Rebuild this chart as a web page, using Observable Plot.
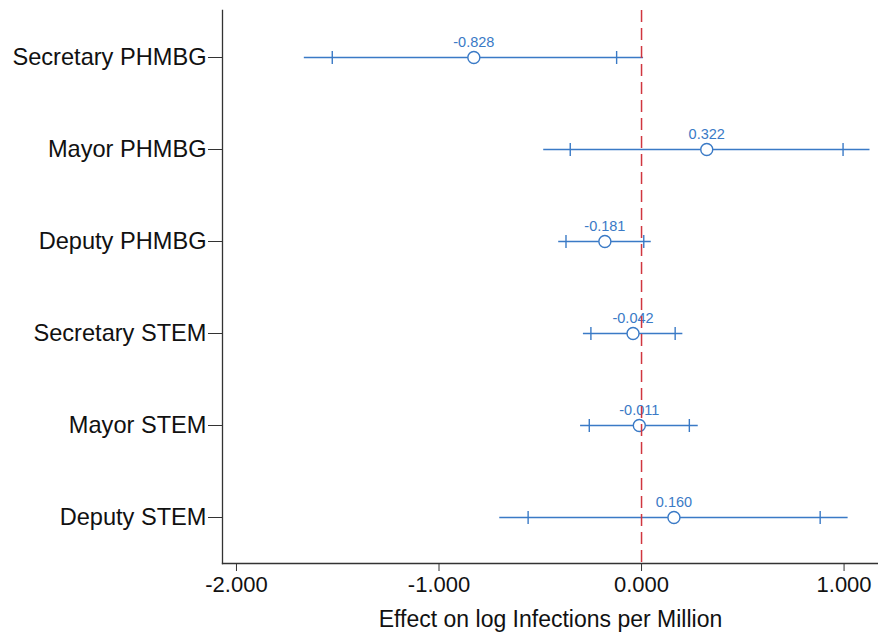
<!DOCTYPE html>
<html><head><meta charset="utf-8">
<script src="https://cdn.jsdelivr.net/npm/d3@7"></script>
<script src="https://cdn.jsdelivr.net/npm/@observablehq/plot@0.6"></script>
<style>body{margin:0;background:#fff} svg{display:block}</style>
</head><body><div id="chart"></div>
<script>
const categories = ["Secretary PHMBG","Mayor PHMBG","Deputy PHMBG","Secretary STEM","Mayor STEM","Deputy STEM"];
const estimates = [-0.828, 0.322, -0.181, -0.042, -0.011, 0.160];
const lo95 = [-1.665, -0.483, -0.409, -0.287, -0.301, -0.700];
const hi95 = [0.010, 1.128, 0.048, 0.204, 0.280, 1.020];
const lo90 = [-1.527, -0.352, -0.373, -0.250, -0.258, -0.560];
const hi90 = [-0.123, 0.995, 0.011, 0.166, 0.236, 0.882];
const xTicks = [-2, -1, 0, 1];
const xLabel = "Effect on log Infections per Million";

const data = categories.map((c, i) => ({cat: c, est: estimates[i], lo95: lo95[i], hi95: hi95[i], lo90: lo90[i], hi90: hi90[i]}));
const caps = data.flatMap(d => [{cat: d.cat, x: d.lo90}, {cat: d.cat, x: d.hi90}]);

const blue = "#3a7ac6";
const red = "#d0363f";
const vbar = {draw(ctx, size) { const r = Math.sqrt(size / Math.PI); ctx.moveTo(0, -r); ctx.lineTo(0, r); }};

const chart = Plot.plot({
  width: 878,
  height: 637,
  marginLeft: 222,
  marginRight: 0,
  marginTop: 10,
  marginBottom: 74,
  style: {fontFamily: "'Liberation Sans', Arial, sans-serif", background: "#fff", color: "#111"},
  x: {domain: [-2.069, 1.170]},
  y: {type: "point", domain: categories, padding: 0.5},
  marks: [
    Plot.frame({anchor: "left", stroke: "#333", strokeWidth: 1.3}),
    Plot.frame({anchor: "bottom", stroke: "#333", strokeWidth: 1.3}),
    Plot.axisY({tickSize: 14, tickPadding: 2, fontSize: 23.6, label: null, stroke: "#333", fill: "#111"}),
    Plot.axisX({ticks: xTicks, tickSize: 8, tickPadding: 5, fontSize: 22, tickFormat: d => d.toFixed(3),
      label: null, stroke: "#333", fill: "#111"}),
    Plot.text([xLabel], {frameAnchor: "bottom", dy: 63, fontSize: 23, fill: "#111"}),
    Plot.ruleY(data, {y: "cat", x1: "lo95", x2: "hi95", stroke: blue, strokeWidth: 1.4}),
    Plot.dot(caps, {x: "x", y: "cat", symbol: vbar, r: 6.5, stroke: blue, strokeWidth: 1.4}),
    Plot.dot(data, {x: "est", y: "cat", r: 6, stroke: blue, fill: "white", strokeWidth: 1.4}),
    Plot.text(data, {x: "est", y: "cat", text: d => d.est.toFixed(3), dy: -15, fill: blue, fontSize: 14.5}),
    Plot.ruleX([0], {stroke: red, strokeWidth: 1.5, strokeDasharray: "12,6"})
  ]
});
document.getElementById("chart").append(chart);
</script>
</body></html>
